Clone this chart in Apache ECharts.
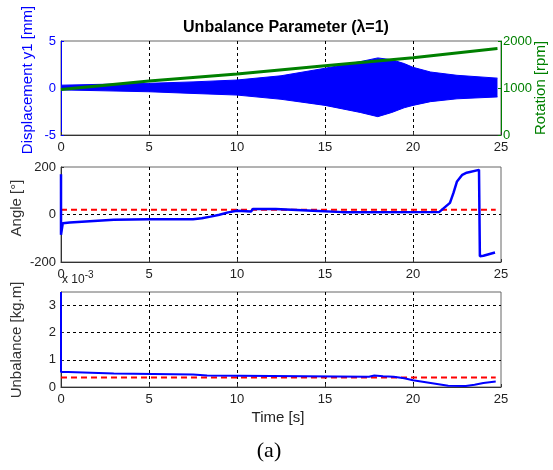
<!DOCTYPE html>
<html>
<head>
<meta charset="utf-8">
<script src="https://cdn.jsdelivr.net/npm/echarts@6/dist/echarts.min.js"></script>
<style>
html, body { margin: 0; padding: 0; background: #fff; }
#chart { width: 553px; height: 470px; }
</style>
</head>
<body>
<div id="chart"></div>
<script>
// top panel: displacement envelope [mm] and rotation [rpm]
const envTime  = [0, 2.5, 5, 7.5, 10, 12.5, 15, 17, 18, 18.8, 19.5, 20, 21, 22.5, 24.8]
const envUpper = [0.3, 0.4, 0.5, 0.65, 0.85, 1.3, 2.1, 2.8, 3.2, 3.0, 2.6, 2.2, 1.7, 1.35, 1.05]
const envLower = [-0.2, -0.3, -0.4, -0.58, -0.75, -1.2, -1.85, -2.6, -3.05, -2.6, -2.1, -1.85, -1.45, -1.15, -0.95]
const rotTime = [0, 5, 10, 15, 20, 24.8]
const rotRpm  = [970, 1150, 1300, 1475, 1645, 1840]

// middle panel: angle [deg]
const angTime = [0, 0, 0.1, 0.5, 3, 5, 7.5, 8, 8.5, 9, 9.5, 10, 10.8, 10.9, 12.2, 12.3, 14.3, 14.4, 16, 21.5, 22.1, 22.3, 22.5, 22.8, 23.05, 23.75, 23.8, 24.0, 24.66]
const angDeg  = [170, -85, -37, -34, -22, -20, -20, -16, -9, -1, 9, 16, 13, 23, 23, 16, 16, 12, 10, 11, 49, 91, 139, 167, 176, 188, -176, -174, -160]
const angRef = 20

// bottom panel: unbalance [kg.m x 1e-3]
const unbTime = [0, 0, 0.4, 0.4, 3, 3, 7.5, 7.5, 8.3, 8.3, 17.5, 17.8, 18.3, 18.9, 19.5, 20, 21, 22, 23, 23.5, 24, 24.7]
const unbVal  = [3.5, 0.55, 0.55, 0.5, 0.5, 0.46, 0.46, 0.42, 0.42, 0.38, 0.38, 0.42, 0.4, 0.38, 0.32, 0.25, 0.15, 0.05, 0.04, 0.08, 0.15, 0.2]
const unbRef = 0.35
const refEnd = 24.7

const zip = (xs, ys) => xs.map((x, i) => [x, ys[i]])

const FONT = 'Liberation Sans, Arial, sans-serif'
const BLUE = '#0000ff'
const GREEN = '#008000'
const RED = '#ff0000'
const GRIDLINE = { show: true, showMinLine: false, showMaxLine: false, lineStyle: { color: '#000', type: [3, 3], width: 1 } }

const xAxisFor = (gridIndex) => ({
    type: 'value', gridIndex, min: 0, max: 25, interval: 5,
    axisLine: { onZero: false, lineStyle: { color: '#333' } },
    axisTick: { inside: true, length: 3, lineStyle: { color: '#333' } },
    axisLabel: { color: '#222', fontFamily: FONT, fontSize: 13, margin: 6 },
    splitLine: GRIDLINE
})

const yLabel = (color) => ({ color, fontFamily: FONT, fontSize: 13, margin: 5 })
const gridBox = (top, height) => ({
    left: 61, right: 52, top, height, show: true, borderColor: '#666',
    backgroundColor: '#fff', outerBoundsMode: 'none', containLabel: false
})
// rotated axis title
const vText = (text, x, y, fill) => ({
    type: 'text', x, y, rotation: Math.PI / 2,
    style: { text, fontFamily: FONT, fontSize: 15, fill, align: 'center', verticalAlign: 'middle' }
})

const chart = echarts.init(document.getElementById('chart'))
chart.setOption({
    animation: false,
    title: {
        text: 'Unbalance Parameter (λ=1)',
        left: 281, top: 15, textAlign: 'center',
        textStyle: { fontFamily: FONT, fontSize: 16, fontWeight: 'bold', color: '#000' }
    },
    grid: [gridBox(41, 94), gridBox(167, 95), gridBox(292, 95)],
    xAxis: [xAxisFor(0), xAxisFor(1), xAxisFor(2)],
    yAxis: [
        {
            type: 'value', gridIndex: 0, min: -5, max: 5, interval: 5,
            axisLine: { show: true, onZero: false, lineStyle: { color: BLUE } },
            axisTick: { show: true, inside: true, length: 3 },
            axisLabel: yLabel(BLUE),
            splitLine: GRIDLINE
        },
        {
            type: 'value', gridIndex: 0, min: 0, max: 2000, interval: 1000, position: 'right',
            axisLine: { show: true, onZero: false, lineStyle: { color: GREEN } },
            axisTick: { show: true, inside: true, length: 3 },
            axisLabel: { color: GREEN, fontFamily: FONT, fontSize: 13, margin: 2, formatter: (v) => String(v) },
            splitLine: { show: false }
        },
        {
            type: 'value', gridIndex: 1, min: -200, max: 200, interval: 200,
            axisLine: { show: true, onZero: false, lineStyle: { color: '#333' } },
            axisTick: { show: true, inside: true, length: 3 },
            axisLabel: yLabel('#222'),
            splitLine: GRIDLINE
        },
        {
            type: 'value', gridIndex: 2, min: 0, max: 3.5, interval: 1,
            axisLine: { show: true, onZero: false, lineStyle: { color: '#333' } },
            axisTick: { show: true, inside: true, length: 3 },
            axisLabel: Object.assign(yLabel('#222'), { showMaxLabel: false }),
            splitLine: GRIDLINE
        }
    ],
    graphic: [
        vText('Displacement y1 [mm]', 28, 80, BLUE),
        vText('Rotation [rpm]', 541, 88, GREEN),
        vText('Angle [°]', 17, 208, '#333'),
        vText('Unbalance [kg.m]', 17, 340, '#333'),
        {
            type: 'text', left: 62, top: 270,
            style: {
                text: '{a|x 10}{b|-3}',
                rich: {
                    a: { fontFamily: FONT, fontSize: 12, fill: '#222', verticalAlign: 'bottom', lineHeight: 16 },
                    b: { fontFamily: FONT, fontSize: 10, fill: '#222', verticalAlign: 'top', lineHeight: 16 }
                }
            }
        },
        {
            type: 'text', x: 278, y: 418,
            style: { text: 'Time [s]', fontFamily: FONT, fontSize: 15, fill: '#222', align: 'center', verticalAlign: 'middle' }
        },
        {
            type: 'text', x: 269, y: 451,
            style: { text: '(a)', fontFamily: 'Liberation Serif, Times New Roman, serif', fontSize: 22, fill: '#000', align: 'center', verticalAlign: 'middle' }
        }
    ],
    series: [
        {
            type: 'line', xAxisIndex: 0, yAxisIndex: 0, data: zip(envTime, envUpper),
            symbol: 'none', lineStyle: { color: BLUE, width: 1 }, areaStyle: { color: BLUE, opacity: 1, origin: 'auto' }
        },
        {
            type: 'line', xAxisIndex: 0, yAxisIndex: 0, data: zip(envTime, envLower),
            symbol: 'none', lineStyle: { color: BLUE, width: 1 }, areaStyle: { color: BLUE, opacity: 1, origin: 'auto' }
        },
        {
            type: 'line', xAxisIndex: 0, yAxisIndex: 1, data: zip(rotTime, rotRpm),
            symbol: 'none', lineStyle: { color: GREEN, width: 3 }
        },
        {
            type: 'line', xAxisIndex: 1, yAxisIndex: 2, data: zip([0, refEnd], [angRef, angRef]),
            symbol: 'none', lineStyle: { color: RED, width: 2, type: [6, 4] }, z: 3
        },
        {
            type: 'line', xAxisIndex: 1, yAxisIndex: 2, data: zip(angTime, angDeg),
            symbol: 'none', lineStyle: { color: BLUE, width: 2.5 }, z: 4
        },
        {
            type: 'line', xAxisIndex: 2, yAxisIndex: 3, data: zip([0, refEnd], [unbRef, unbRef]),
            symbol: 'none', lineStyle: { color: RED, width: 2, type: [6, 4] }, z: 3
        },
        {
            type: 'line', xAxisIndex: 2, yAxisIndex: 3, data: zip(unbTime, unbVal),
            symbol: 'none', lineStyle: { color: BLUE, width: 2 }, z: 4
        }
    ]
})
</script>
</body>
</html>
